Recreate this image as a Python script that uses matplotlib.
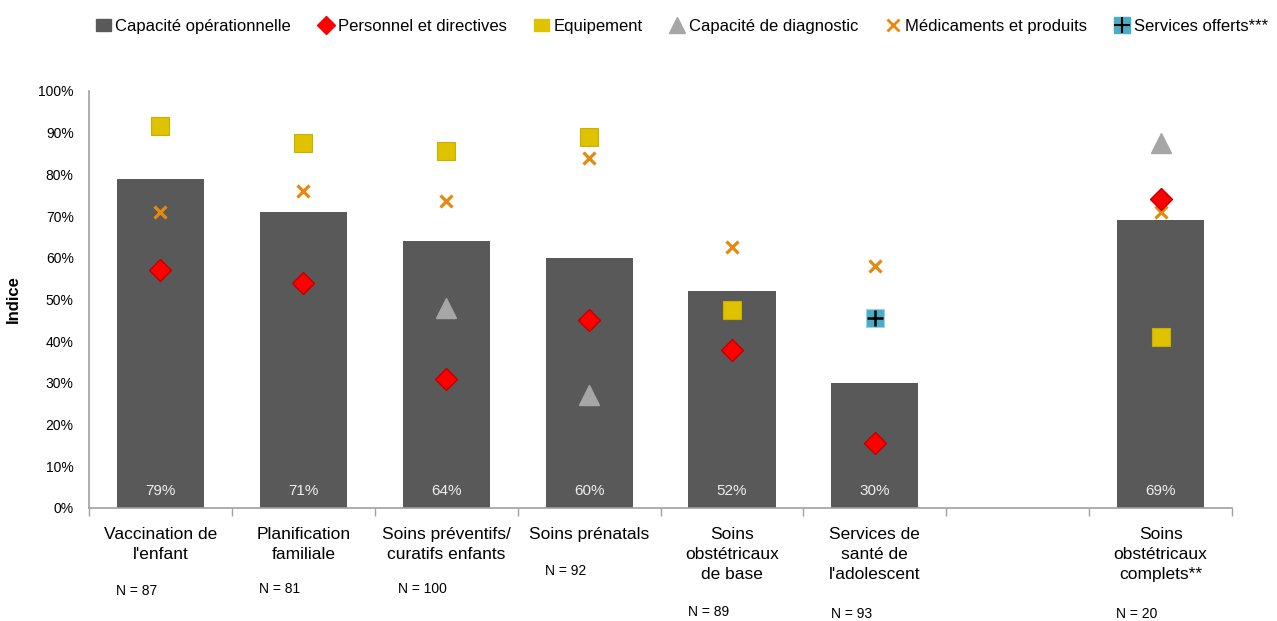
import numpy as np
import matplotlib.pyplot as plt
from matplotlib.lines import Line2D
from matplotlib.patches import Patch

plt.rcParams['font.family'] = ['Liberation Sans', 'DejaVu Sans']

categories = ["Vaccination de\nl'enfant", "Planification\nfamiliale",
              "Soins préventifs/\ncuratifs enfants", "Soins prénatals",
              "Soins\nobstétricaux\nde base", "Services de\nsanté de\nl'adolescent",
              "", "Soins\nobstétricaux\ncomplets**"]
n_labels = ["N = 87", "N = 81", "N = 100", "N = 92", "N = 89", "N = 93", "N = 20"]
slots = [0, 1, 2, 3, 4, 5, 7]

capacite = [79, 71, 64, 60, 52, 30, 69]
personnel = [57, 54, 31, 45, 38, 15.5, 74]
equipement = [91.5, 87.5, 85.5, 89, 47.5, np.nan, 41]
diagnostic = [np.nan, np.nan, 48, 27, np.nan, np.nan, 87.5]
medicaments = [71, 76, 73.5, 84, 62.5, 58, 71]
services = [np.nan, np.nan, np.nan, np.nan, np.nan, 45.5, np.nan]

# vertical offset (px) of the N labels below the axis
n_offsets = [83, 81, 81, 63, 104, 106, 106]

bar_col = '#595959'
red = '#ff0000'
yellow = '#dfc300'
grey = '#a6a6a6'
orange = '#e8890f'
teal = '#4bacc6'

fig = plt.figure(figsize=(12.77, 6.21), dpi=100)
ax = fig.add_axes([0.0697, 0.182, 0.8951, 0.6715])

ax.bar(slots, capacite, width=0.61, color=bar_col, zorder=1)
for x, v in zip(slots, capacite):
    ax.text(x, 4, f"{v}%", ha='center', va='center', color='#eeeeee', fontsize=11)

ax.plot(slots, medicaments, ls='none', marker='x', ms=8.5, mew=2.3, color=orange, zorder=3)
ax.plot(slots, personnel, ls='none', marker='D', ms=11, mfc=red, mec='#c00000', mew=1, zorder=4)
ax.plot(slots, equipement, ls='none', marker='s', ms=12.5, mfc=yellow, mec='#c9b000', mew=0.8, zorder=4)
ax.plot(slots, diagnostic, ls='none', marker='^', ms=14, color=grey, zorder=4)
ax.plot(slots, services, ls='none', marker='s', ms=12.5, mfc=teal, mec='#9fd3e0', mew=0.8, zorder=4)
ax.plot(slots, services, ls='none', marker='+', ms=12, mew=1.8, color='black', zorder=5)

ax.set_xlim(-0.5, 7.5)
ax.set_ylim(0, 100)
ax.set_yticks(np.arange(0, 101, 10))
ax.set_yticklabels([f"{t}%" for t in range(0, 101, 10)], fontsize=10)
ax.tick_params(axis='y', length=0, pad=11)
ax.set_xticks(range(8))
ax.set_xticklabels(categories, fontsize=12.5, linespacing=1.4)
ax.tick_params(axis='x', which='major', length=0, pad=14)
ax.set_xticks(np.arange(-0.5, 8.0, 1), minor=True)
ax.tick_params(axis='x', which='minor', length=6, color='#a0a0a0', width=1)
ax.set_ylabel('Indice', fontsize=12, fontweight='bold')
ax.yaxis.set_label_coords(-0.06, 0.5)

for s in ['top', 'right']:
    ax.spines[s].set_visible(False)
for s in ['left', 'bottom']:
    ax.spines[s].set_color('#a0a0a0')
    ax.spines[s].set_linewidth(1.2)

for x, lab, off in zip(slots, n_labels, n_offsets):
    ax.annotate(lab, xy=(x, 0), xycoords='data', xytext=(-17, -off * 0.72),
                textcoords='offset points', ha='center', va='center', fontsize=10)

handles = [
    Patch(color=bar_col),
    Line2D([], [], ls='none', marker='D', ms=9, mfc=red, mec=red),
    Patch(color=yellow),
    Line2D([], [], ls='none', marker='^', ms=11, color=grey),
    Line2D([], [], ls='none', marker='x', ms=9, mew=2, color=orange),
    (Line2D([], [], ls='none', marker='s', ms=12, color=teal),
     Line2D([], [], ls='none', marker='+', ms=12, mew=1.5, color='black')),
]
labels = ['Capacité opérationnelle', 'Personnel et directives', 'Equipement',
          'Capacité de diagnostic', 'Médicaments et produits', 'Services offerts***']
fig.legend(handles, labels, loc='center', bbox_to_anchor=(0.534, 0.958), ncol=6,
           frameon=False, fontsize=12, handlelength=0.9, handletextpad=0.25,
           columnspacing=1.65)

fig.savefig('out.png', dpi=100)
